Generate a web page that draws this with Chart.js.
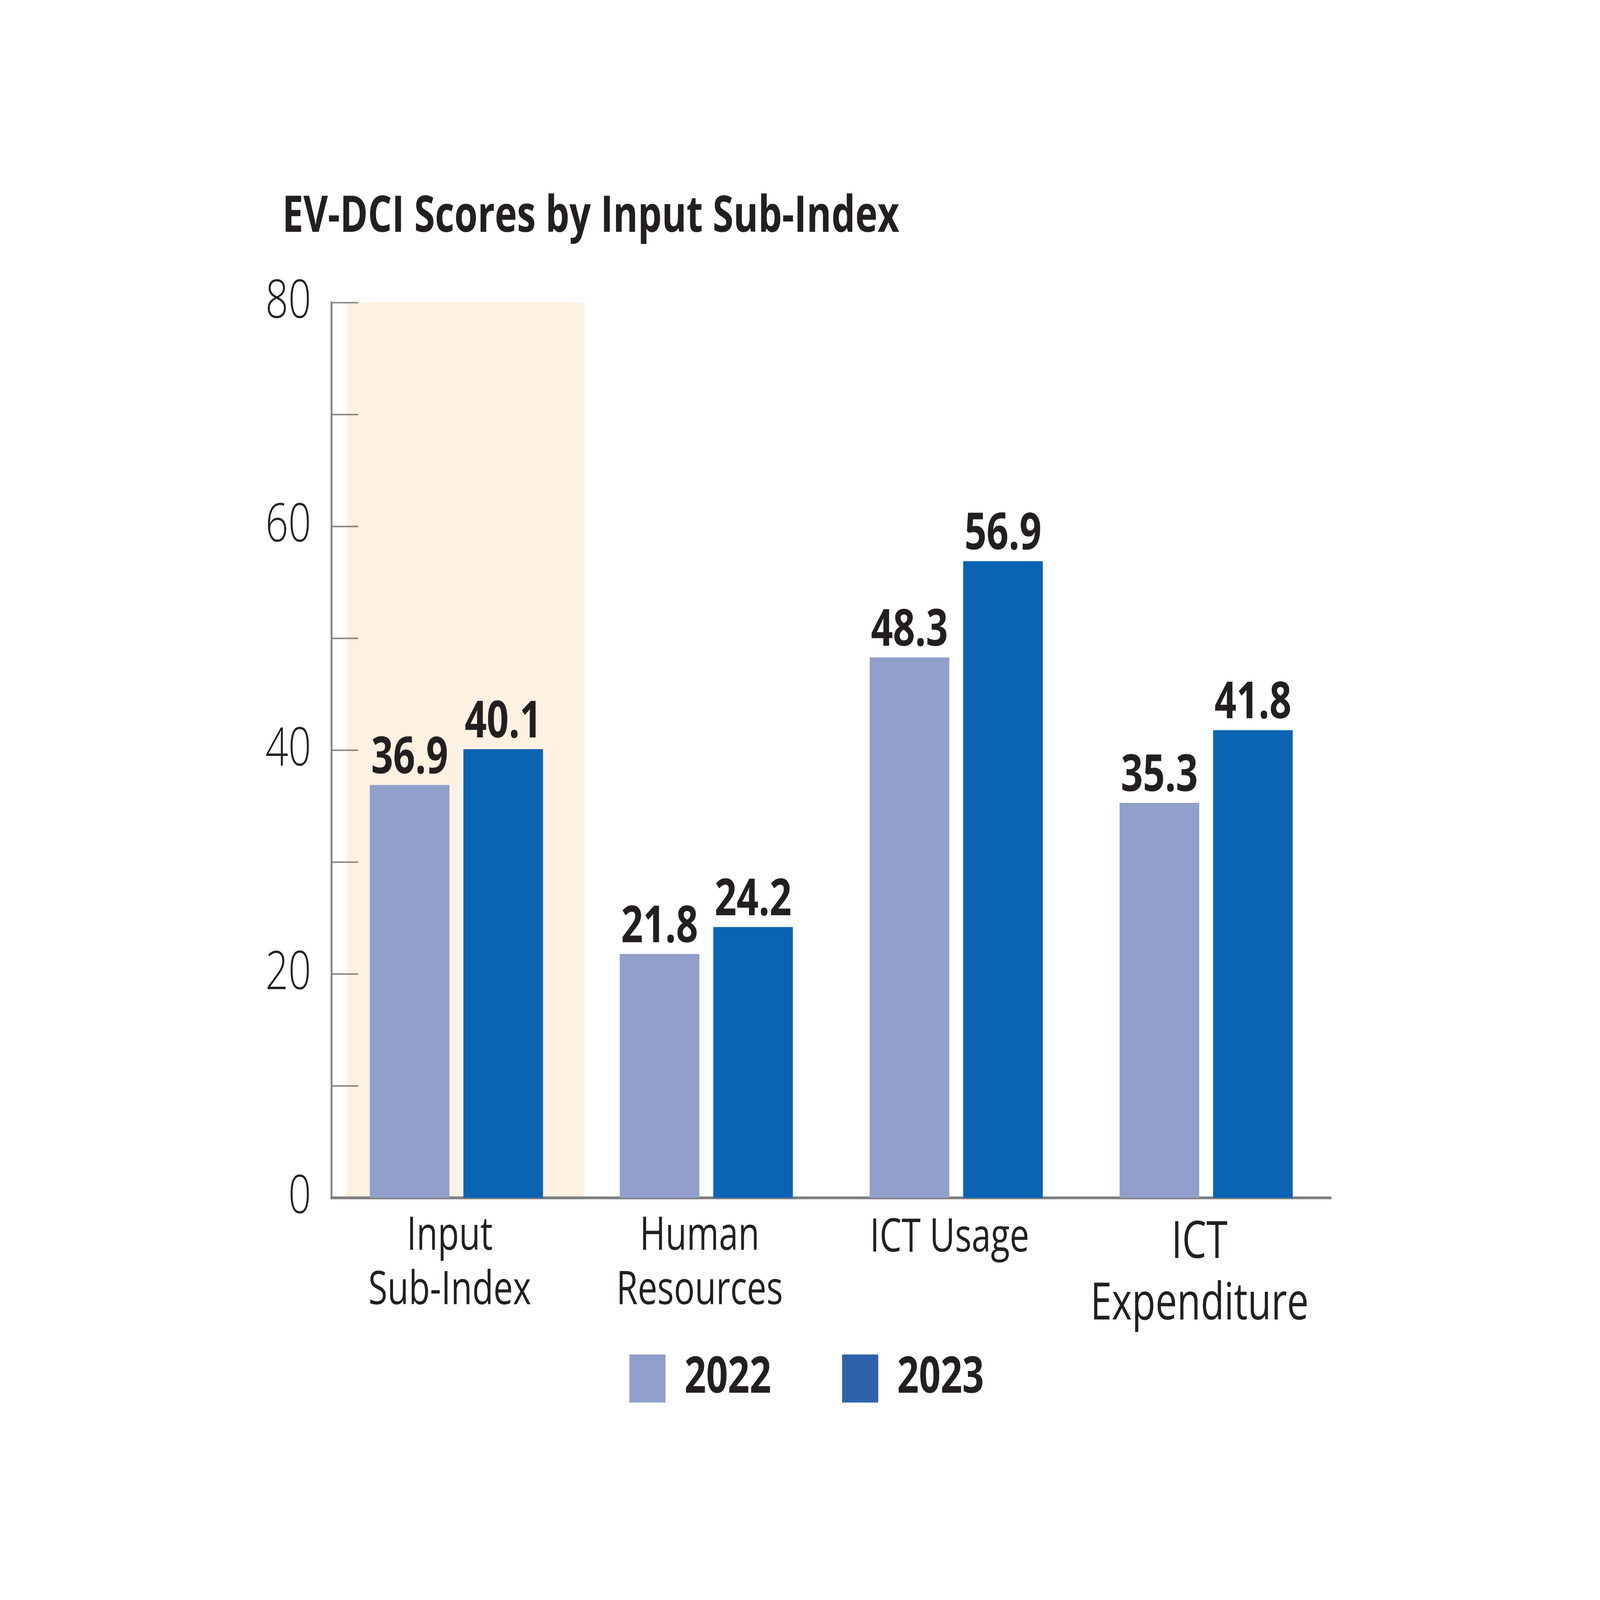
<!DOCTYPE html>
<html>
<head>
<meta charset="utf-8">
<script src="https://cdn.jsdelivr.net/npm/chart.js@4.4.1/dist/chart.umd.min.js"></script>
<style>
  html, body { margin: 0; padding: 0; background: #ffffff; overflow: hidden; }
  canvas { display: block; }
</style>
</head>
<body>
<canvas id="myChart" width="5986" height="4500" style="width:100vw;height:100vh"></canvas>
<script>
// data
var categories = [["Input", "Sub-Index"], ["Human", "Resources"], ["ICT Usage"], ["ICT", "Expenditure"]];
var years = ["2022", "2023"];
var scores2022 = [36.9, 21.8, 48.3, 35.3];
var scores2023 = [40.1, 24.2, 56.9, 41.8];
var yTickLabels = [0, 20, 40, 60, 80];

var barColors = ["#909FCB", "#0A64B4"];
var legendColors = ["#909FCB", "#2E62AB"];
var textColor = "#231F20";
var axisColor = "#808080";

// shaded band behind the first group, drawn under the axes
var bandPlugin = {
  id: "band",
  beforeDraw: function (chart) {
    var x = chart.scales.x, a = chart.chartArea;
    var w = x.width / categories.length;
    var c = x.getPixelForValue(0);
    var ctx = chart.ctx;
    ctx.save();
    ctx.fillStyle = "#FDF1E2";
    ctx.fillRect(c - 0.439 * w, a.top, 0.952 * w, a.bottom - a.top);
    ctx.restore();
  }
};

// short tick marks pointing into the plot
var innerTicks = {
  id: "innerTicks",
  beforeDatasetsDraw: function (chart) {
    var y = chart.scales.y, a = chart.chartArea, ctx = chart.ctx;
    ctx.save();
    ctx.strokeStyle = axisColor;
    ctx.lineWidth = 4;
    y.ticks.forEach(function (t) {
      var py = y.getPixelForValue(t.value);
      ctx.beginPath();
      ctx.moveTo(a.left, py);
      ctx.lineTo(a.left + 100, py);
      ctx.stroke();
    });
    ctx.restore();
  }
};

// value labels above the bars
var valueLabels = {
  id: "valueLabels",
  afterDatasetsDraw: function (chart) {
    var ctx = chart.ctx;
    ctx.save();
    ctx.font = "bold 144px 'Open Sans'";
    ctx.fillStyle = textColor;
    ctx.textAlign = "center";
    ctx.textBaseline = "alphabetic";
    chart.data.datasets.forEach(function (ds, i) {
      chart.getDatasetMeta(i).data.forEach(function (bar, j) {
        ctx.fillText(ds.data[j].toFixed(1), bar.x, bar.y - 33);
      });
    });
    ctx.restore();
  }
};

var ctx = document.getElementById("myChart");
var myChart = new Chart(ctx, {
  type: "bar",
  data: {
    labels: categories,
    datasets: [
      { label: years[0], data: scores2022, backgroundColor: barColors[0], borderWidth: 0 },
      { label: years[1], data: scores2023, backgroundColor: barColors[1], borderWidth: 0 }
    ]
  },
  options: {
    responsive: false,
    devicePixelRatio: 1,
    animation: false,
    categoryPercentage: 0.7487,
    barPercentage: 0.851,
    layout: { padding: { top: 0, left: 1056, right: 1006, bottom: 542 } },
    scales: {
      x: {
        grid: { display: false, drawTicks: false },
        border: { display: true, color: axisColor, width: 8 },
        ticks: {
          color: textColor,
          // mirrored so the two-line labels are not clipped to the axis box
          mirror: true,
          crossAlign: "center",
          padding: -128,
          labelOffset: -25,
          maxRotation: 0,
          autoSkip: false,
          font: function (c) {
            if (c.index === 3) return { family: "'Open Sans'", size: 144, lineHeight: 1.2 };
            if (c.index === 2) return { family: "'Open Sans'", size: 130, lineHeight: 2.45 };
            return { family: "'Open Sans'", size: 130, lineHeight: 1.18 };
          }
        },
        afterFit: function (scale) { scale.height = 172; }
      },
      y: {
        min: 0,
        max: 80,
        grid: { display: false, drawTicks: false },
        border: { display: true, color: axisColor, width: 7 },
        ticks: {
          stepSize: 10,
          color: textColor,
          mirror: true,
          crossAlign: "far",
          padding: -247,
          font: { family: "'Open Sans'", size: 150, weight: 300 },
          callback: function (v) { return yTickLabels.indexOf(v) >= 0 ? v : ""; }
        },
        afterFit: function (scale) { scale.width = 184; }
      }
    },
    plugins: {
      title: {
        display: true,
        text: "EV-DCI Scores by Input Sub-Index",
        align: "start",
        color: textColor,
        font: { family: "'Open Sans'", size: 141, weight: "bold", lineHeight: 1.2 },
        padding: { top: 527, bottom: 155 }
      },
      legend: {
        position: "bottom",
        labels: {
          boxWidth: 135,
          boxHeight: 135,
          padding: 265,
          color: textColor,
          font: { family: "'Open Sans'", size: 142, weight: "bold" },
          generateLabels: function (chart) {
            var items = Chart.defaults.plugins.legend.labels.generateLabels(chart);
            items.forEach(function (it, i) {
              it.fillStyle = legendColors[i];
              it.strokeStyle = legendColors[i];
              it.lineWidth = 0;
            });
            return items;
          }
        }
      },
      tooltip: { enabled: false }
    }
  },
  plugins: [bandPlugin, innerTicks, valueLabels]
});
</script>
</body>
</html>
